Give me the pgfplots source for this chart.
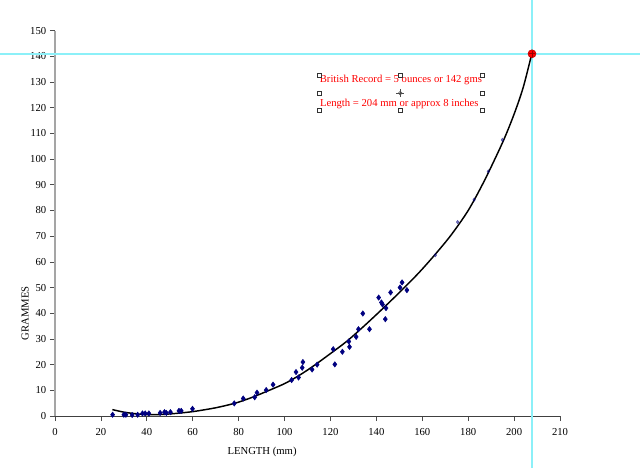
\documentclass[border=0pt]{standalone}
\usepackage{pgfplots}
\pgfplotsset{compat=1.18}
\usepackage{fontspec}
\setmainfont{Liberation Serif}
\definecolor{navy}{RGB}{0,0,128}
\definecolor{cyanl}{RGB}{140,240,248}
\definecolor{axgray}{RGB}{165,165,165}
\begin{document}
\fontsize{8}{9.6}\selectfont
\begin{tikzpicture}
\path[use as bounding box] (-41.25pt,-39pt) rectangle (438.75pt,312pt);
\begin{axis}[
  at={(0,0)}, anchor=south west, scale only axis,
  width=378.75pt, height=289pt,
  xmin=0, xmax=220, ymin=0, ymax=150,
  axis x line*=bottom, axis y line*=left,
  x axis line style={-, black!75, line width=0.6pt},
  y axis line style={-, axgray, line width=1.5pt},
  every outer y axis line/.append style={-, axgray, line width=1.5pt},
  tick align=outside, major tick length=3.75pt,
  tick style={black!70, line width=0.5pt},
  xtick={0,20,...,220},
  xticklabels={0,20,40,60,80,100,120,140,160,180,200,210},
  xticklabel style={yshift=-3pt},
  ytick={0,10,...,150},
  /pgf/number format/assume math mode=true,
  tick label style={font=\fontsize{8}{9.6}\selectfont, black},
  clip=false,
]
% cyan guide lines
\draw[cyanl, line width=1.5pt] (axis cs:-40,141) -- (axis cs:270,141);
\draw[cyanl, line width=1.5pt] (axis cs:207.8,-30) -- (axis cs:207.8,170);
% faint points under the trend line
\addplot[only marks, mark=diamond*, mark size=1.3pt, navy, opacity=0.5] coordinates {
(165.7,62.6)(175.4,75.5)(182.6,84.2)(188.8,95.2)(194.9,107.5)};
% trend line
\addplot[black, line width=1.1pt, smooth, tension=0.5] coordinates {
(25,2.5)(30,1.5)(35,0.9)(40,0.55)(45,0.55)(50,0.8)(55,1.2)(60,1.7)(65,2.4)(70,3.2)
(75,4.2)(80,5.4)(86,7.3)(92,9.5)(100,12.6)(106,15.6)(112,19.1)(120,24.3)(127,29)
(134,34.5)(141,40.3)(148,46.3)(155,52.5)(160,57.2)(166,63.3)(172.6,70.5)(180,80)
(187,91.5)(195,106.5)(200,117.5)(204,128)(207.7,141)};
% data points
\addplot[only marks, mark=diamond*, mark size=2pt, navy] coordinates {
(25.1,0.5)(30,0.5)(30.9,0.5)(33.6,0.4)(36,0.5)(38.1,1.0)(39.3,1.0)(40.9,1.0)
(45.8,1.2)(47.7,1.5)(48.5,1.2)(50.3,1.5)(54,2)(55,2)(59.9,2.8)
(78.1,4.9)(82,6.8)(87,7.3)(88,9.1)(92,10.1)(95,12.2)
(103.1,14)(105,17.1)(106.1,15)(107.7,18.8)(108,21)(112,18.1)(114.2,20)
(121.2,26)(121.9,20.1)(125.2,25)(128,29)(128.3,26.9)(131.2,30.8)(132.2,33.8)
(134.1,39.9)(137,33.8)(141,46.1)(142.2,44.2)(142.7,43.4)(144.2,42)(143.9,37.7)
(146.2,48.1)(150.3,50)(151.2,52)(153.3,49)};
% record point
\addplot[only marks, mark=*, mark size=3pt, mark options={fill=red, draw=red!70!black}] coordinates {(207.8,141)};
\addplot[only marks, mark=+, mark size=2.2pt, mark options={draw=red!60!black, line width=0.5pt}] coordinates {(207.8,141)};
% annotation text
\node[red, inner sep=0pt] at (axis cs:150.7,130.9) {British Record = 5 ounces or 142 gms};
\node[red, inner sep=0pt] at (axis cs:150,121.3) {Length = 204 mm or approx 8 inches};
% text box handles
\addplot[only marks, mark=square*, mark size=1.5pt, mark options={fill=white, draw=black!80, line width=0.5pt}] coordinates {
(115.2,132.6)(150.4,132.6)(186.1,132.6)(115.2,125.7)(186.1,125.7)(115.2,118.9)(150.4,118.9)(186.1,118.9)};
\addplot[only marks, mark=+, mark size=3pt, mark options={draw=black!70, line width=0.4pt}] coordinates {(150.4,125.7)};
\addplot[only marks, mark=o, mark size=1.4pt, mark options={draw=black!70, fill=white, line width=0.4pt}] coordinates {(150.4,125.7)};
% axis labels
\node[rotate=90] at (axis cs:-13,40) {GRAMMES};
\node at (axis cs:90.2,-13.9) {LENGTH (mm)};
\end{axis}
\end{tikzpicture}
\end{document}
